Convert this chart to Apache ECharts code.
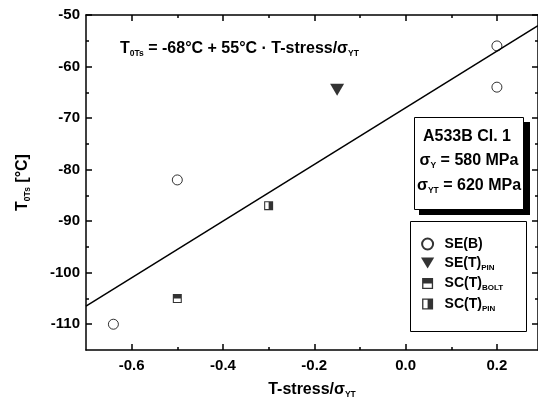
<!DOCTYPE html>
<html>
<head>
<meta charset="utf-8">
<script src="https://cdn.jsdelivr.net/npm/echarts@6/dist/echarts.min.js"></script>
<style>
  html, body { margin: 0; padding: 0; background: #fff; }
  #chart { width: 538px; height: 407px; }
</style>
</head>
<body>
<div id="chart"></div>
<script>
// data
const seB = [[-0.64, -110], [-0.5, -82], [0.2, -56], [0.2, -64]];
const seTPin = [[-0.15, -64.5]];
const scTBolt = [[-0.5, -105]];
const scTPin = [[-0.3, -87]];
// fit line: T0Ts = -68 + 55 * T/sigmaYT, ends at the axis limits
const fitX = [-0.7, 0.29];
const fitY = [-106.5, -52.05];

// axes / ticks
const xMin = -0.7, xMax = 0.29;
const yMin = -115, yMax = -50;
const xMajor = [-0.6, -0.4, -0.2, 0.0, 0.2];
const xMinor = [-0.5, -0.3, -0.1, 0.1];
const yMajor = [-110, -100, -90, -80, -70, -60, -50];
const yMinor = [-105, -95, -85, -75, -65, -55];

const FONT = 'Liberation Sans, Arial, sans-serif';
const black = '#000';

// two-tone square markers (frame + one filled half)
const boltPath = 'path://M0 0H10V10H0Z M1.2 1.2V8.8H8.8V1.2Z M1.2 1.2H8.8V5H1.2Z';
const pinPath = 'path://M0 0H10V10H0Z M1.2 1.2V8.8H8.8V1.2Z M5 1.2H8.8V8.8H5Z';
const triPath = 'path://M0 0H12L6 10Z';

const legendNames = {
  'SE(B)': '{b|SE(B)}',
  'SE(T)PIN': '{b|SE(T)}{s|PIN}',
  'SC(T)BOLT': '{b|SC(T)}{s|BOLT}',
  'SC(T)PIN': '{b|SC(T)}{s|PIN}'
};

// rich text styles: b = normal bold, s = subscript
const rich = {
  b: { fontFamily: FONT, fontWeight: 'bold', fontSize: 16, color: black },
  s: { fontFamily: FONT, fontWeight: 'bold', fontSize: 8.5, color: black, padding: [10, 0, 0, 0] }
};
const richLegend = {
  b: { fontFamily: FONT, fontWeight: 'bold', fontSize: 14, color: black },
  s: { fontFamily: FONT, fontWeight: 'bold', fontSize: 8, color: black, padding: [9, 0, 0, 0] }
};

function xAxisDef(pos, vals, len, main) {
  return {
    type: 'value', position: pos, min: xMin, max: xMax,
    axisLine: { show: main, onZero: false, lineStyle: { color: black, width: 1.5 } },
    axisTick: { show: true, inside: true, length: len, customValues: vals,
      lineStyle: { color: black, width: 1.5 } },
    axisLabel: { show: main && pos === 'bottom', customValues: vals, margin: 8,
      fontFamily: FONT, fontWeight: 'bold', fontSize: 15, color: black,
      formatter: v => v.toFixed(1) },
    splitLine: { show: false }
  };
}
function yAxisDef(pos, vals, len, main) {
  return {
    type: 'value', position: pos, min: yMin, max: yMax,
    axisLine: { show: main, onZero: false, lineStyle: { color: black, width: 1.5 } },
    axisTick: { show: true, inside: true, length: len, customValues: vals,
      lineStyle: { color: black, width: 1.5 } },
    axisLabel: { show: main && pos === 'left', customValues: vals, margin: 6,
      fontFamily: FONT, fontWeight: 'bold', fontSize: 15, color: black },
    splitLine: { show: false }
  };
}

const xAxes = [
  xAxisDef('bottom', xMajor, 6, true),
  xAxisDef('bottom', xMinor, 3, false),
  xAxisDef('top', xMajor, 6, true),
  xAxisDef('top', xMinor, 3, false)
];
xAxes[0].name = '{b|T-stress/σ}{s|YT}';
xAxes[0].nameLocation = 'middle';
xAxes[0].nameGap = 30;
xAxes[0].nameTextStyle = { rich: rich };

const yAxes = [
  yAxisDef('left', yMajor, 6, true),
  yAxisDef('left', yMinor, 3, false),
  yAxisDef('right', yMajor, 6, true),
  yAxisDef('right', yMinor, 3, false)
];
yAxes[0].name = '{b|T}{s|0Ts}{b| [°C]}';
yAxes[0].nameLocation = 'middle';
yAxes[0].nameRotate = 90;
yAxes[0].nameGap = 54;
yAxes[0].nameTextStyle = { rich: rich };

const chart = echarts.init(document.getElementById('chart'), null, { renderer: 'canvas' });

chart.setOption({
  animation: false,
  backgroundColor: '#fff',
  grid: { left: 86, right: 0, top: 15, bottom: 57 },
  xAxis: xAxes,
  yAxis: yAxes,
  legend: {
    orient: 'vertical',
    left: 421, top: 237,
    itemWidth: 24, itemHeight: 11,
    itemGap: 5,
    padding: 0,
    data: ['SE(B)', 'SE(T)PIN', 'SC(T)BOLT', 'SC(T)PIN'],
    formatter: n => legendNames[n],
    textStyle: { rich: richLegend }
  },
  graphic: [
    // legend frame
    { type: 'rect', x: 410.5, y: 221.5, z: 100,
      shape: { width: 116, height: 110 },
      style: { fill: 'none', stroke: black, lineWidth: 1 } },
    // material box with shadow
    { type: 'rect', x: 419, y: 122, z: 100,
      shape: { width: 111, height: 93 },
      style: { fill: black } },
    { type: 'rect', x: 414.5, y: 117.5, z: 101,
      shape: { width: 109, height: 92 },
      style: { fill: '#fff', stroke: black, lineWidth: 1 } },
    { type: 'text', z: 102, x: 467, y: 137,
      style: { text: '{b|A533B Cl. 1}', align: 'center', verticalAlign: 'middle', rich: rich } },
    { type: 'text', z: 102, x: 469, y: 161,
      style: { text: '{b|σ}{s|Y}{b| = 580 MPa}', align: 'center', verticalAlign: 'middle', rich: rich } },
    { type: 'text', z: 102, x: 469, y: 186,
      style: { text: '{b|σ}{s|YT}{b| = 620 MPa}', align: 'center', verticalAlign: 'middle', rich: rich } },
    // fit equation
    { type: 'text', z: 102, x: 120, y: 49,
      style: { text: '{b|T}{s|0Ts}{b| = -68°C + 55°C · T-stress/σ}{s|YT}', align: 'left', verticalAlign: 'middle',
        rich: rich } }
  ],
  series: [
    {
      name: 'fit', type: 'line', xAxisIndex: 0, yAxisIndex: 0,
      data: fitX.map((x, i) => [x, fitY[i]]),
      showSymbol: false, symbol: 'none', silent: true,
      lineStyle: { color: black, width: 1.5 }, z: 3
    },
    {
      name: 'SE(B)', type: 'scatter', data: seB,
      symbol: 'circle', symbolSize: 10,
      itemStyle: { color: 'transparent', borderColor: black, borderWidth: 1 }, z: 4
    },
    {
      name: 'SE(T)PIN', type: 'scatter', data: seTPin,
      symbol: triPath, symbolSize: [14, 12],
      itemStyle: { color: black }, z: 4
    },
    {
      name: 'SC(T)BOLT', type: 'scatter', data: scTBolt,
      symbol: boltPath, symbolSize: 9,
      itemStyle: { color: black }, z: 4
    },
    {
      name: 'SC(T)PIN', type: 'scatter', data: scTPin,
      symbol: pinPath, symbolSize: 9,
      itemStyle: { color: black }, z: 4
    }
  ]
});
</script>
</body>
</html>
